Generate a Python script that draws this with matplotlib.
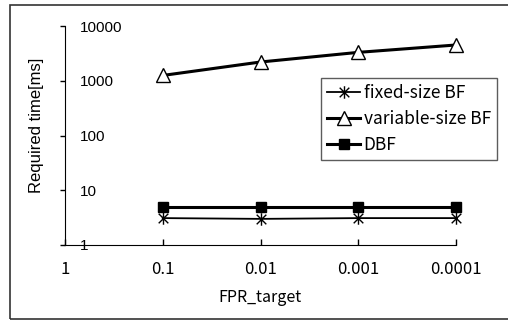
import numpy as np
import matplotlib
matplotlib.use("Agg")
import matplotlib.pyplot as plt
from matplotlib.path import Path
from matplotlib.patches import Rectangle

# ---------- Datos ----------
x_labels = ["1", "0.1", "0.01", "0.001", "0.0001"]
x_pos = [1, 2, 3, 4]                         # 0.1 .. 0.0001
fixed_bf = [3.1, 3.0, 3.1, 3.1]
variable_bf = [1250, 2200, 3300, 4500]
dbf = [4.9, 4.9, 4.9, 4.9]
y_ticks = [1, 10, 100, 1000, 10000]
y_tick_labels = ["1", "10", "100", "1000", "10000"]

JP = ["Noto Sans CJK JP", "DejaVu Sans"]
SANS = ["Liberation Sans", "DejaVu Sans"]

W, H, DPI = 508, 321, 100
PX = 72 / DPI      # puntos por pixel
fig = plt.figure(figsize=(W / DPI, H / DPI), dpi=DPI)

# marco exterior (cortado a la derecha)
fig.patches.append(Rectangle((10 / W, 1 - 319 / H), 1.2, (319 - 5) / H,
                             transform=fig.transFigure, fill=False,
                             edgecolor="#333333", linewidth=1.2))

# area de trazado en pixeles
left, right, top, bottom = 65, 456, 26, 245
ax = fig.add_axes([left / W, 1 - bottom / H, (right - left) / W, (bottom - top) / H])
ax.patch.set_alpha(0)

# asterisco estilo Excel: X + linea vertical
star = Path([(-1, -1), (1, 1), (-1, 1), (1, -1), (0, -1.3), (0, 1.3)],
            [Path.MOVETO, Path.LINETO, Path.MOVETO, Path.LINETO, Path.MOVETO, Path.LINETO])

ax.plot(x_pos, fixed_bf, color="black", lw=1.3, marker=star, ms=9,
        mec="black", mew=1.0, label="fixed-size BF", clip_on=False)
ax.plot(x_pos, variable_bf, color="black", lw=2.2, marker="^", ms=10,
        mfc="white", mec="black", mew=1.0, label="variable-size BF", clip_on=False)
ax.plot(x_pos, dbf, color="black", lw=2.2, marker="s", ms=7,
        mfc="black", mec="black", label="DBF", clip_on=False)

ax.set_yscale("log")
ax.set_ylim(1, 10000)
ax.set_xlim(0, 4)
ax.yaxis.set_minor_locator(matplotlib.ticker.NullLocator())
ax.set_yticks(y_ticks)
ax.set_yticklabels(y_tick_labels, fontfamily=SANS, fontsize=11)
for lbl in ax.get_yticklabels():
    lbl.set_ha("left")
ax.tick_params(axis="y", direction="out", length=5 * PX, width=1,
               pad=-(15 + 5) * PX)

ax.set_xticks(range(len(x_labels)))
ax.set_xticklabels(x_labels, fontfamily=JP, fontsize=12)
ax.tick_params(axis="x", direction="in", length=6 * PX, width=1,
               pad=16 * PX)

for s in ["top", "right"]:
    ax.spines[s].set_visible(False)
ax.spines["bottom"].set_bounds(-0.015, 4)

ax.set_xlabel("FPR_target", fontfamily=JP, fontsize=11.5)
ax.xaxis.label.set_va("center")
ax.xaxis.set_label_coords(0.499, (bottom - 297) / (bottom - top))
ax.set_ylabel("Required time[ms]", fontfamily=SANS, fontsize=12)
ax.yaxis.label.set_va("center")
ax.yaxis.set_label_coords((37 - left) / (right - left), (bottom - 125) / (bottom - top))

leg = ax.legend(loc="upper left", bbox_to_anchor=(321 / W, 1 - 78 / H),
                bbox_transform=fig.transFigure, prop={"family": JP, "size": 12.5},
                frameon=True, fancybox=False, edgecolor="#333333",
                handlelength=1.9, handletextpad=0.2, labelspacing=0.45,
                borderpad=0.35, borderaxespad=0)
leg.get_frame().set_linewidth(1.0)

fig.savefig("out.png", dpi=DPI)
